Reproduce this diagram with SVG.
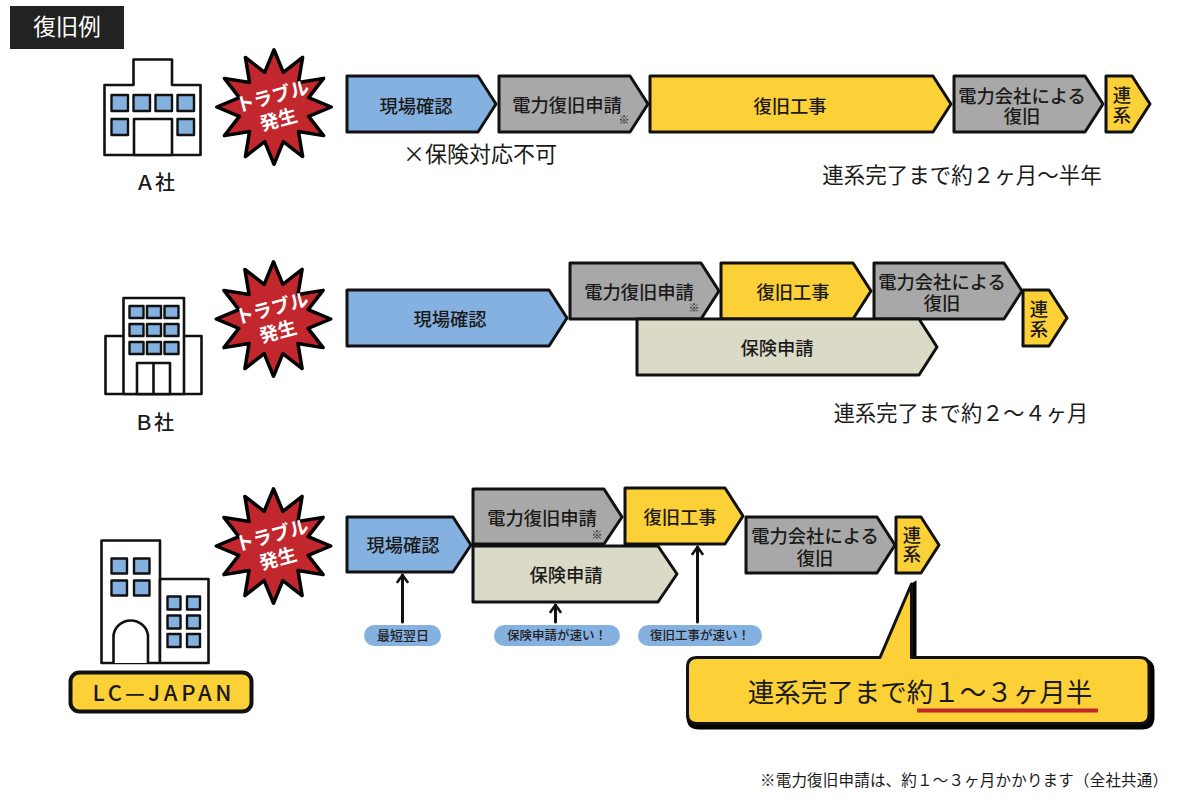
<svg xmlns="http://www.w3.org/2000/svg" width="1200" height="800" viewBox="0 0 1200 800">
<style>
text{font-family:"Noto Sans CJK JP","Noto Sans",sans-serif;fill:#1a1a1a;font-weight:500;text-anchor:middle}
.p{stroke:#111;stroke-width:3;stroke-linejoin:round}
.blue{fill:#85b1e0}.gray{fill:#a7a8a7}.yel{fill:#fcd037}.bei{fill:#dbdac6}
.o{fill:#fff;stroke:#111;stroke-width:2.6;stroke-linejoin:round}
.w{fill:#85b1e0;stroke:#111;stroke-width:2.4;stroke-linejoin:round}
.t{font-size:18.300px}.m{font-size:11px;font-weight:400}
.c{font-weight:400}
.pill{fill:#85b1e0}.pt{font-size:12.500px;fill:#222}
.a{fill:none;stroke:#111;stroke-width:3;stroke-linecap:round;stroke-linejoin:round}
</style>
<defs>
<marker id="h" markerUnits="userSpaceOnUse" markerWidth="14" markerHeight="12" refX="7" refY="2" orient="0" viewBox="0 0 14 12"><path d="M2 9 L7 2 L12 9" fill="none" stroke="#111" stroke-width="2.6" stroke-linecap="round" stroke-linejoin="round"/></marker>
<g id="burst">
<polygon transform="scale(0.97)" points="0,-59 9.6,-35.7 29.5,-51.1 25.2,-25.2 51.1,-29.5 35.7,-9.6 59,0 35.7,9.6 51.1,29.5 25.2,25.2 29.5,51.1 9.6,35.7 0,59 -9.6,35.7 -29.5,51.1 -25.2,25.2 -51.1,29.5 -35.7,9.6 -59,0 -35.7,-9.6 -51.1,-29.5 -25.2,-25.2 -29.5,-51.1 -9.6,-35.7" fill="#c1272d" stroke="#000" stroke-width="3.600" stroke-linejoin="round"/>
<g transform="rotate(-15)" style="font-size:18.800px">
<text style="font-size:18.800px;font-weight:700;fill:#fff"><tspan x="1" y="-4">トラブル</tspan><tspan x="1" y="20">発生</tspan></text>
</g>
</g>
</defs>

<g id="title"><rect x="10" y="6" width="114" height="43" fill="#222"/><text x="67" y="35" style="font-size:22.500px;fill:#fff;font-weight:400">復旧例</text></g>

<g id="bldgA">
<path class="o" d="M104.500 85H133.500V59.500H172V85H200.500V155H104.500Z"/>
<rect class="w" x="111.500" y="95" width="16.500" height="16"/><rect class="w" x="133.500" y="95" width="16.500" height="16"/><rect class="w" x="155.500" y="95" width="16.500" height="16"/><rect class="w" x="177.500" y="95" width="16.500" height="16"/>
<rect class="w" x="111.500" y="119" width="16.500" height="16"/><rect class="w" x="177.500" y="119" width="16.500" height="16"/>
<rect class="o" x="134" y="119" width="38" height="36"/>
<text x="155" y="190" style="font-size:20px">Ａ社</text>
</g>
<g id="bldgB">
<rect class="o" x="105.500" y="336" width="96" height="58"/>
<rect class="o" x="123.500" y="298" width="60.500" height="96"/>
<rect class="w" x="129.500" y="306" width="14" height="12"/><rect class="w" x="147" y="306" width="14" height="12"/><rect class="w" x="164.500" y="306" width="14" height="12"/>
<rect class="w" x="129.500" y="324" width="14" height="12"/><rect class="w" x="147" y="324" width="14" height="12"/><rect class="w" x="164.500" y="324" width="14" height="12"/>
<rect class="w" x="129.500" y="342" width="14" height="12"/><rect class="w" x="147" y="342" width="14" height="12"/><rect class="w" x="164.500" y="342" width="14" height="12"/>
<rect class="o" x="137" y="363" width="33" height="31"/><path class="o" d="M153.500 363V394"/>
<text x="154" y="430" style="font-size:20px">Ｂ社</text>
</g>
<g id="bldgC">
<rect class="o" x="101.500" y="540.500" width="58.500" height="122.500"/>
<rect class="o" x="160" y="579" width="48.500" height="84"/>
<rect class="w" x="111.500" y="558.500" width="15.500" height="15"/><rect class="w" x="134" y="558.500" width="15.500" height="15"/>
<rect class="w" x="111.500" y="580.500" width="15.500" height="15"/><rect class="w" x="134" y="580.500" width="15.500" height="15"/>
<rect class="w" x="167.500" y="596.500" width="13" height="13"/><rect class="w" x="187" y="596.500" width="13" height="13"/>
<rect class="w" x="167.500" y="615.500" width="13" height="13"/><rect class="w" x="187" y="615.500" width="13" height="13"/>
<rect class="w" x="167.500" y="634" width="13" height="13"/><rect class="w" x="187" y="634" width="13" height="13"/>
<path class="o" d="M113.500 663V635A17.500 17.500 0 0 1 148 635V663"/>
</g>
<g id="lcjapan"><rect x="70.500" y="672.500" width="181" height="39" rx="9" fill="#fcd037" stroke="#111" stroke-width="4"/><text x="162" y="701" textLength="139" style="font-size:22px">LC—JAPAN</text></g>

<use id="burstA" href="#burst" x="274" y="107"/>
<use id="burstB" href="#burst" x="273.500" y="319"/>
<use id="burstC" href="#burst" x="273.500" y="546"/>

<g id="a1"><polygon class="p blue" points="347,76 478,76 496,104 478,132 347,132"/><text class="t" x="416" y="113">現場確認</text></g>
<g id="a2"><polygon class="p gray" points="499,76 630,76 648,104 630,132 499,132"/><text class="t" x="567" y="112">電力復旧申請</text><text class="m" x="624" y="124">※</text></g>
<g id="a3"><polygon class="p yel" points="650,76 933,76 951,104 933,132 650,132"/><text class="t" x="790" y="113">復旧工事</text></g>
<g id="a4"><polygon class="p gray" points="954,76 1085,76 1103,104 1085,132 954,132"/><text class="t"><tspan x="1022" y="103">電力会社による</tspan><tspan x="1022" y="123">復旧</tspan></text></g>
<g id="a5"><polygon class="p yel" points="1106,76 1132,76 1150,104 1132,132 1106,132"/><text class="t"><tspan x="1122" y="102">連</tspan><tspan x="1122" y="122">系</tspan></text></g>
<text class="c" x="480" y="162" style="font-size:22px">×保険対応不可</text>
<text class="c" x="962" y="183" style="font-size:21.500px">連系完了まで約２ヶ月〜半年</text>

<g id="b1"><polygon class="p blue" points="347,290 549,290 567,318 549,346 347,346"/><text class="t" x="450" y="326">現場確認</text></g>
<g id="b2"><polygon class="p gray" points="570,263 701,263 719,291 701,319 570,319"/><text class="t" x="639" y="299">電力復旧申請</text><text class="m" x="694" y="312">※</text></g>
<g id="b3"><polygon class="p yel" points="721,263 853,263 871,291 853,319 721,319"/><text class="t" x="793" y="299">復旧工事</text></g>
<g id="b4"><polygon class="p gray" points="874,263 1004,263 1022,291 1004,319 874,319"/><text class="t"><tspan x="942" y="289">電力会社による</tspan><tspan x="942" y="310">復旧</tspan></text></g>
<g id="b5"><polygon class="p yel" points="1023,290 1049,290 1067,318 1049,346 1023,346"/><text class="t"><tspan x="1039" y="316">連</tspan><tspan x="1039" y="336">系</tspan></text></g>
<g id="b6"><polygon class="p bei" points="637,319 919,319 937,347 919,375 637,375"/><text class="t" x="777" y="355">保険申請</text></g>
<text class="c" x="961" y="421" style="font-size:21.200px">連系完了まで約２〜４ヶ月</text>

<g id="c1"><polygon class="p blue" points="347,517 453,517 471,545 453,572 347,572"/><text class="t" x="403" y="552">現場確認</text></g>
<g id="c2"><polygon class="p gray" points="473,489 604,489 622,517 604,544 473,544"/><text class="t" x="542" y="525">電力復旧申請</text><text class="m" x="597" y="539">※</text></g>
<g id="c3"><polygon class="p yel" points="625,488 725,488 743,516 725,544 625,544"/><text class="t" x="680" y="524">復旧工事</text></g>
<g id="c4"><polygon class="p gray" points="746,517 877,517 895,545 877,573 746,573"/><text class="t"><tspan x="815" y="543">電力会社による</tspan><tspan x="815" y="565">復旧</tspan></text></g>
<g id="c5"><polygon class="p yel" points="896,517 921,517 939,545 921,573 896,573"/><text class="t"><tspan x="912" y="542">連</tspan><tspan x="912" y="561">系</tspan></text></g>
<g id="c6"><polygon class="p bei" points="473,546 658,546 677,574 658,602 473,602"/><text class="t" x="566" y="582">保険申請</text></g>

<g id="connectors">
<path class="a" marker-end="url(#h)" d="M402.500 622V575"/>
<path class="a" marker-end="url(#h)" d="M555.500 622V605"/>
<path class="a" marker-end="url(#h)" d="M697.500 622V547"/>
</g>
<g id="n1"><rect class="pill" x="364" y="625" width="77" height="21" rx="10.500"/><text class="pt" x="403" y="640" style="font-size:13px">最短翌日</text></g>
<g id="n2"><rect class="pill" x="494" y="625" width="126" height="21" rx="10.500"/><text class="pt" x="557" y="640">保険申請が速い！</text></g>
<g id="n3"><rect class="pill" x="638" y="625" width="124" height="21" rx="10.500"/><text class="pt" x="700" y="640">復旧工事が速い！</text></g>

<g id="callout">
<path d="M699 660H880L912 585L915 583V660H1142Q1153 660 1153 671V717Q1153 728 1142 728H699Q688 728 688 717V671Q688 660 699 660Z" fill="#000" stroke="#000" stroke-width="3"/>
<path d="M697 657.500H880L911.500 584V657.500H1140Q1149 657.500 1149 667V714Q1149 723.500 1140 723.500H697Q687.500 723.500 687.500 714V667Q687.500 657.500 697 657.500Z" fill="#fcd037" stroke="#111" stroke-width="3" stroke-linejoin="round"/>
<text x="920" y="702" style="font-size:26.500px;font-weight:400">連系完了まで約１〜３ヶ月半</text>
<rect x="917" y="708.500" width="181" height="4" fill="#c1272d"/>
</g>
<text x="964" y="786" textLength="408" style="font-size:15.500px;font-weight:400">※電力復旧申請は、約１〜３ヶ月かかります（全社共通）</text>
</svg>
